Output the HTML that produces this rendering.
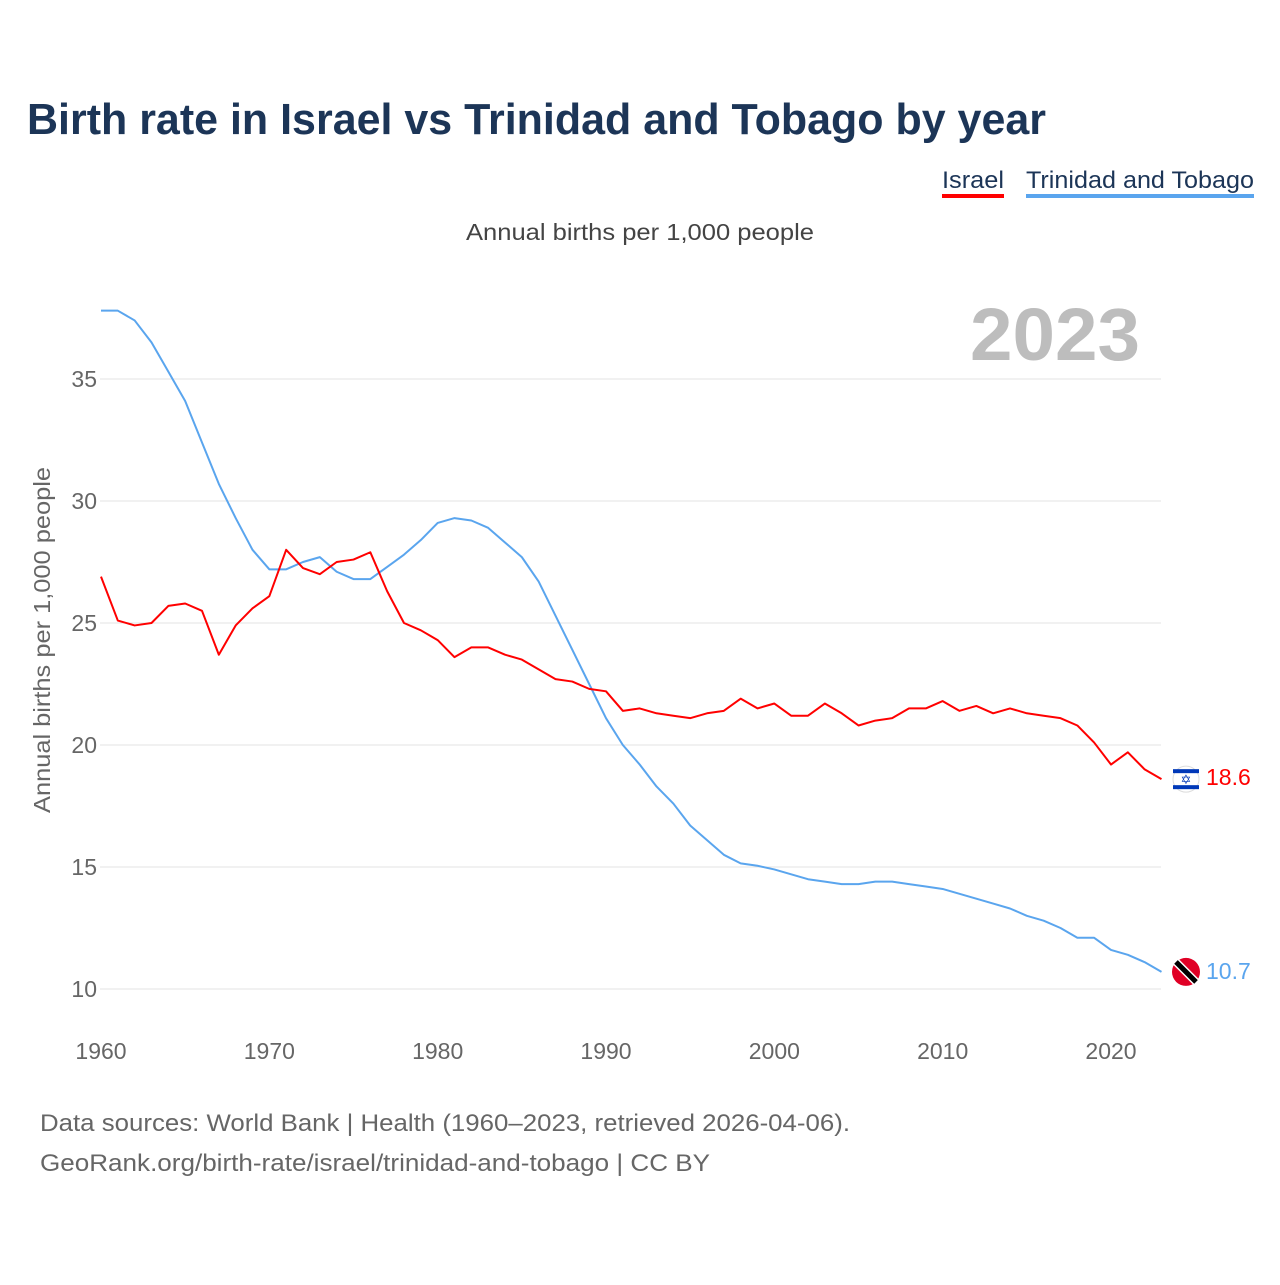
<!DOCTYPE html>
<html><head><meta charset="utf-8"><style>
body{margin:0;background:#fff;font-family:"Liberation Sans",sans-serif}
svg text{font-family:"Liberation Sans",sans-serif}
</style></head><body>
<svg width="1280" height="1280" viewBox="0 0 1280 1280">
<text x="27" y="134" font-size="44" font-weight="bold" fill="#1c3557" textLength="1019" lengthAdjust="spacingAndGlyphs">Birth rate in Israel vs Trinidad and Tobago by year</text>
<g><text x="1004" y="188" font-size="24" fill="#1c3557" text-anchor="end" textLength="62" lengthAdjust="spacingAndGlyphs">Israel</text><rect x="942" y="194" width="62" height="4" fill="#f00"/></g>
<g><text x="1254" y="188" font-size="24" fill="#1c3557" text-anchor="end" textLength="228" lengthAdjust="spacingAndGlyphs">Trinidad and Tobago</text><rect x="1026" y="194" width="228" height="4" fill="#5aa5ee"/></g>
<text x="466" y="240" font-size="23" fill="#444" textLength="348" lengthAdjust="spacingAndGlyphs">Annual births per 1,000 people</text>
<text x="970" y="360" font-size="74" font-weight="bold" fill="#bdbdbd" textLength="170" lengthAdjust="spacingAndGlyphs">2023</text>
<text transform="translate(50,640) rotate(-90)" font-size="23" fill="#666" text-anchor="middle" textLength="346" lengthAdjust="spacingAndGlyphs">Annual births per 1,000 people</text>
<g id="grid"></g><g id="lines"></g><g id="xt"></g>
<text x="40" y="1131" font-size="24" fill="#666" textLength="810" lengthAdjust="spacingAndGlyphs">Data sources: World Bank | Health (1960–2023, retrieved 2026-04-06).</text>
<text x="40" y="1171" font-size="24" fill="#666" textLength="670" lengthAdjust="spacingAndGlyphs">GeoRank.org/birth-rate/israel/trinidad-and-tobago | CC BY</text>
</svg>
<script>
const years=[];for(let y=1960;y<=2023;y++)years.push(y);
const israel=[26.9,25.1,24.9,25.0,25.7,25.8,25.5,23.7,24.9,25.6,26.1,28.0,27.25,27.0,27.5,27.6,27.9,26.3,25.0,24.7,24.3,23.6,24.0,24.0,23.7,23.5,23.1,22.7,22.6,22.3,22.2,21.4,21.5,21.3,21.2,21.1,21.3,21.4,21.9,21.5,21.7,21.2,21.2,21.7,21.3,20.8,21.0,21.1,21.5,21.5,21.8,21.4,21.6,21.3,21.5,21.3,21.2,21.1,20.8,20.1,19.2,19.7,19.0,18.6];
const trinidad=[37.8,37.8,37.4,36.5,35.3,34.1,32.4,30.7,29.3,28.0,27.2,27.2,27.5,27.7,27.1,26.8,26.8,27.3,27.8,28.4,29.1,29.3,29.2,28.9,28.3,27.7,26.7,25.3,23.9,22.5,21.1,20.0,19.2,18.3,17.6,16.7,16.1,15.5,15.15,15.05,14.9,14.7,14.5,14.4,14.3,14.3,14.4,14.4,14.3,14.2,14.1,13.9,13.7,13.5,13.3,13.0,12.8,12.5,12.1,12.1,11.6,11.4,11.1,10.7];
const yTicks=[10,15,20,25,30,35];
const xTicks=[1960,1970,1980,1990,2000,2010,2020];
const NS="http://www.w3.org/2000/svg";
const X=v=>101+(v-1960)*(1010/60);
const Y=v=>989-(v-10)*24.4;
function mk(t,a,p){const e=document.createElementNS(NS,t);for(const k in a)e.setAttribute(k,a[k]);p.appendChild(e);return e;}
const grid=document.getElementById('grid'),lines=document.getElementById('lines'),xt=document.getElementById('xt');
yTicks.forEach(t=>{
 const l=mk('line',{x1:100,x2:1161,y1:Y(t),y2:Y(t),stroke:'#e3e3e3','stroke-width':1},grid);
 
 
 const tx=mk('text',{x:97,y:Y(t)+8,'font-size':23,fill:'#666','text-anchor':'end'},grid);tx.textContent=t;
 
 
});
xTicks.forEach(t=>{
 const tx=mk('text',{x:X(t),y:1059,'font-size':23,fill:'#666','text-anchor':'middle'},xt);tx.textContent=t;
 
 
});
function series(vals,col,name){
 const p=mk('polyline',{points:vals.map((v,i)=>X(years[i])+','+Y(v)).join(' '),fill:'none',stroke:col,'stroke-width':2,'stroke-linejoin':'round'},lines);
 
 
}
series(trinidad,'#5aa5ee','trinidad-line');
series(israel,'#f00','israel-line');
const last=years.length-1;
const ig=mk('g',{},lines);


const iy=Y(israel[last]);
mk('circle',{cx:1186,cy:iy,r:13,fill:'#fff',stroke:'#ddd'},ig);
mk('rect',{x:1173,y:iy-10,width:26,height:4,fill:'#0038b8'},ig);
mk('rect',{x:1173,y:iy+6,width:26,height:4,fill:'#0038b8'},ig);
const st=mk('text',{x:1186,y:iy+5,'font-size':13,fill:'#0038b8','text-anchor':'middle'},ig);st.textContent='✡';
const il=mk('text',{x:1206,y:iy+6,'font-size':23,fill:'#f00'},ig);il.textContent=israel[last].toFixed(1);
const tg=mk('g',{},lines);


const ty=Y(trinidad[last]);
mk('circle',{cx:1186,cy:ty,r:14,fill:'#e00025'},tg);
mk('line',{x1:1176,y1:ty-10,x2:1196,y2:ty+10,stroke:'#fff','stroke-width':8},tg);
mk('line',{x1:1176,y1:ty-10,x2:1196,y2:ty+10,stroke:'#000','stroke-width':5},tg);
const tl=mk('text',{x:1206,y:ty+7,'font-size':23,fill:'#5aa5ee'},tg);tl.textContent=trinidad[last].toFixed(1);
</script>
</body></html>
